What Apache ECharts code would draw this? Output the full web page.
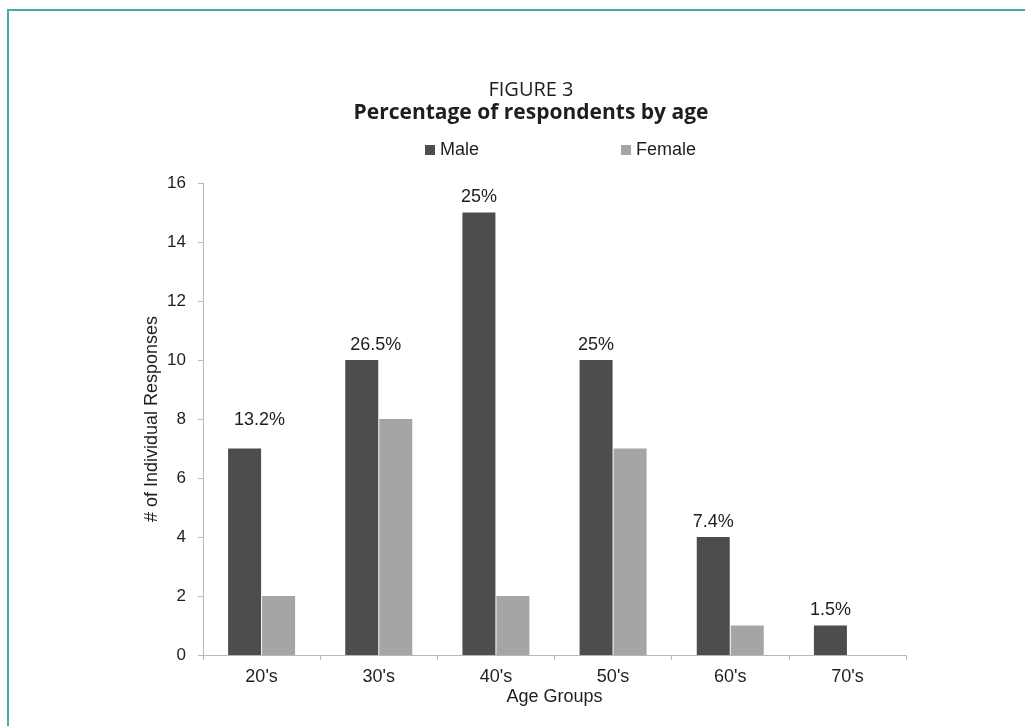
<!DOCTYPE html>
<html>
<head>
<meta charset="utf-8">
<script src="https://cdn.jsdelivr.net/npm/echarts@6/dist/echarts.min.js"></script>
<style>
  html, body { margin: 0; padding: 0; background: #ffffff; }
  #chart { width: 1025px; height: 726px; }
</style>
</head>
<body>
<div id="chart"></div>
<script>
// Age groups on the category axis
const ageGroups = ["20's", "30's", "40's", "50's", "60's", "70's"];
// Number of individual responses per age group
const maleCounts = [7, 10, 15, 10, 4, 1];
const femaleCounts = [2, 8, 2, 7, 1, 0];
// Share of all respondents in each age group, shown above the male bars
const shareLabels = ['13.2%', '26.5%', '25%', '25%', '7.4%', '1.5%'];
// Y axis range
const yMin = 0, yMax = 16, yStep = 2;

// A couple of share labels sit between the two bars of their group
const labelNudge = { 0: [15, -13], 1: [14, 0] };

const axisGray = '#b8b8b8';
const textDark = '#1e1e1e';
const sansFont = '"Liberation Sans", Arial, sans-serif';
const titleFont = '"Open Sans", "Noto Sans", sans-serif';

const chart = echarts.init(document.getElementById('chart'), null, { renderer: 'canvas' });

const maleData = maleCounts.map((v, i) => {
  const item = { value: v };
  if (labelNudge[i]) item.label = { offset: labelNudge[i] };
  return item;
});

chart.setOption({
  animation: false,
  backgroundColor: '#ffffff',
  graphic: [
    { type: 'line', shape: { x1: 7, y1: 10, x2: 1025, y2: 10 }, style: { stroke: '#45aaa5', lineWidth: 2 } },
    { type: 'line', shape: { x1: 8, y1: 9, x2: 8, y2: 726 }, style: { stroke: '#45aaa5', lineWidth: 2 } }
  ],
  title: [
    {
      text: 'FIGURE 3',
      left: 526, top: 75, textAlign: 'center',
      textStyle: { fontFamily: titleFont, fontSize: 20, fontWeight: 'normal', color: textDark }
    },
    {
      text: 'Percentage of respondents by age',
      left: 526, top: 98, textAlign: 'center',
      textStyle: { fontFamily: titleFont, fontSize: 21, fontWeight: 'bold', color: textDark }
    }
  ],
  legend: {
    data: ['Male', 'Female'],
    left: 420, top: 136,
    itemWidth: 10, itemHeight: 10, itemGap: 142,
    icon: 'rect',
    textStyle: { fontFamily: sansFont, fontSize: 18, color: textDark }
  },
  grid: { left: 203, right: 119, top: 183, bottom: 71, containLabel: false },
  xAxis: {
    type: 'category',
    data: ageGroups,
    name: 'Age Groups',
    nameLocation: 'middle',
    nameMoveOverlap: false,
    nameGap: 33,
    nameTextStyle: { fontFamily: sansFont, fontSize: 18, color: textDark },
    axisLine: { lineStyle: { color: axisGray, width: 1 } },
    axisTick: { show: true, length: 5, lineStyle: { color: axisGray } },
    axisLabel: { fontFamily: sansFont, fontSize: 18, color: textDark, margin: 13 }
  },
  yAxis: {
    type: 'value',
    min: yMin, max: yMax, interval: yStep,
    name: '# of Individual Responses',
    nameLocation: 'middle',
    nameMoveOverlap: false,
    nameRotate: 90,
    nameGap: 42,
    nameTextStyle: { fontFamily: sansFont, fontSize: 18, color: textDark },
    axisLine: { show: true, lineStyle: { color: axisGray, width: 1 } },
    axisTick: { show: true, length: 5, lineStyle: { color: axisGray } },
    splitLine: { show: false },
    axisLabel: { fontFamily: sansFont, fontSize: 17, color: textDark, margin: 17 }
  },
  series: [
    {
      name: 'Male',
      type: 'bar',
      data: maleData,
      barWidth: 33,
      barGap: '3%',
      itemStyle: { color: '#4d4d4d' },
      label: {
        show: true,
        position: 'top',
        distance: 6,
        fontFamily: sansFont,
        fontSize: 18,
        color: textDark,
        formatter: p => shareLabels[p.dataIndex]
      }
    },
    {
      name: 'Female',
      type: 'bar',
      data: femaleCounts,
      barWidth: 33,
      itemStyle: { color: '#a5a5a5' }
    }
  ]
});
</script>
</body>
</html>
